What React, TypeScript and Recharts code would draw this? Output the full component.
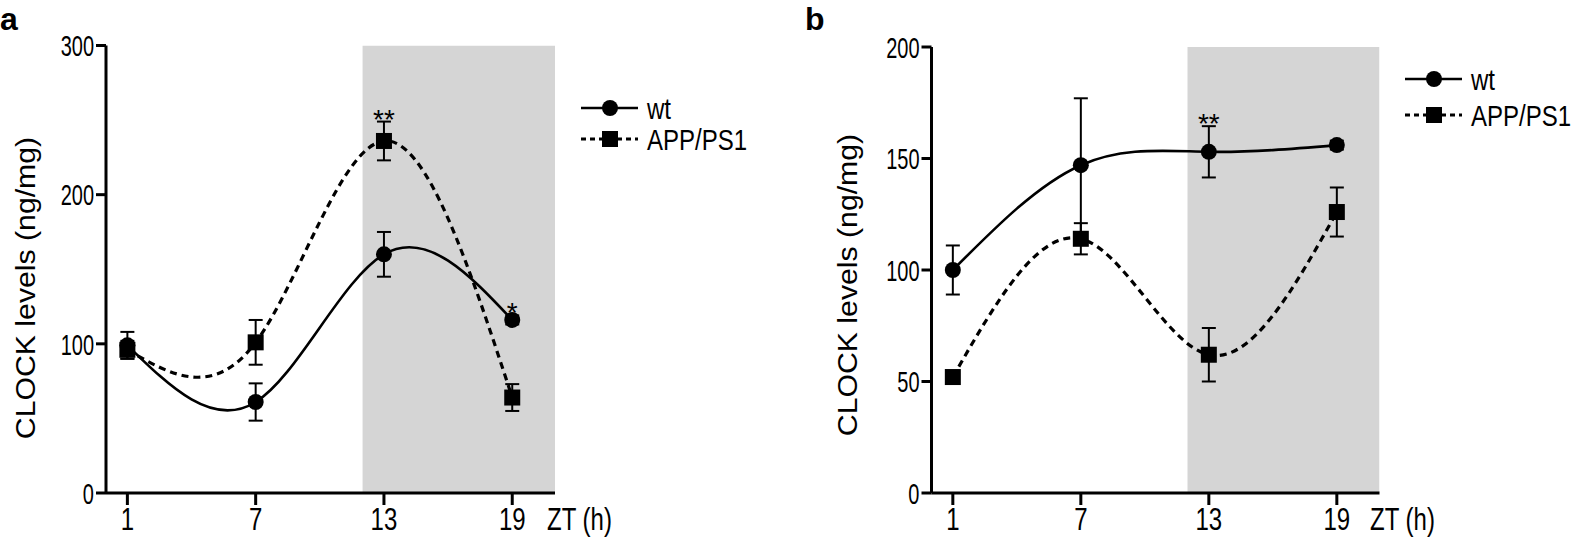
import React from 'react';
import { LineChart, Line, XAxis, YAxis, ReferenceArea, ErrorBar, LabelList } from 'recharts';

// ZT hours sampled
const hours = [1, 7, 13, 19];

// panel a
const wtA = [99, 61, 160, 116];
const wtAErr = [9, 12.5, 15, 3];
const appA = [96, 101, 236, 64];
const appAErr = [6, 15, 13, 9];
const wtAStars = ['', '', '', '*'];
const appAStars = ['', '', '**', ''];
const ticksA = [0, 100, 200, 300];

// panel b
const wtB = [100, 147, 153, 156];
const wtBErr = [11, 30, 11.5, 2];
const appB = [52, 114, 62, 126];
const appBErr = [2, 7, 12, 11];
const wtBStars = ['', '', '**', ''];
const appBStars = ['', '', '', ''];
const ticksB = [0, 50, 100, 150, 200];

const FONT = '"Liberation Sans", Arial, Helvetica, sans-serif';
const SY = 1.3; // figure text is stretched vertically

const buildRows = (wt: number[], wtErr: number[], app: number[], appErr: number[], wtStars: string[], appStars: string[]) =>
  hours.map((zt, i) => ({
    zt,
    wt: wt[i],
    wtErr: wtErr[i],
    app: app[i],
    appErr: appErr[i],
    wtStar: wtStars[i] || null,
    appStar: appStars[i] || null,
    wtStarY: wtStars[i] ? wt[i] + wtErr[i] : null,
    appStarY: appStars[i] ? app[i] + appErr[i] : null,
  }));

const dataA = buildRows(wtA, wtAErr, appA, appAErr, wtAStars, appAStars);
const dataB = buildRows(wtB, wtBErr, appB, appBErr, wtBStars, appBStars);

const CircleDot = (props: any) => {
  const { cx, cy } = props;
  if (cx == null || cy == null) return null;
  return <circle cx={cx} cy={cy} r={8} fill="#000" />;
};

const SquareDot = (props: any) => {
  const { cx, cy } = props;
  if (cx == null || cy == null) return null;
  return <rect x={cx - 8} y={cy - 8} width={16} height={16} fill="#000" />;
};

const YTick = (props: any) => {
  const { x, y, payload } = props;
  return (
    <text transform={`translate(${x},${y}) scale(0.93,1.4)`} textAnchor="end" dy="0.355em"
      fontFamily={FONT} fontSize={21.5} fill="#000">
      {payload.value}
    </text>
  );
};

const XTick = (props: any) => {
  const { x, y, payload } = props;
  return (
    <text transform={`translate(${x},${y}) scale(1,${SY})`} textAnchor="middle" dy="0.71em"
      fontFamily={FONT} fontSize={24} fill="#000">
      {payload.value}
    </text>
  );
};

const StarLabel = (props: any) => {
  const { x, y, value } = props;
  if (!value || x == null || y == null) return null;
  return (
    <text x={x} y={y + 7} textAnchor="middle" fontFamily={FONT} fontSize={28} fill="#000">
      {value}
    </text>
  );
};

const Panel = ({ data, yMax, yTicks, margin, width }: any) => (
  <LineChart width={width} height={537} data={data} margin={margin}>
    <ReferenceArea x1={12} x2={21} y1={0} y2={yMax} fill="#d5d5d5" fillOpacity={1} stroke="none" ifOverflow="hidden" />
    <XAxis
      type="number"
      dataKey="zt"
      domain={[0, 21]}
      ticks={hours}
      allowDataOverflow
      height={44}
      axisLine={{ stroke: '#000', strokeWidth: 3 }}
      tickLine={{ stroke: '#000', strokeWidth: 3 }}
      tickSize={12}
      tickMargin={3}
      tick={<XTick />}
    />
    <YAxis
      type="number"
      domain={[0, yMax]}
      ticks={yTicks}
      width={60}
      axisLine={{ stroke: '#000', strokeWidth: 3 }}
      tickLine={{ stroke: '#000', strokeWidth: 3 }}
      tickSize={10}
      tickMargin={2}
      tick={<YTick />}
    />
    <Line dataKey="app" type="natural" stroke="#000" strokeWidth={3.2} strokeDasharray="7 5"
      dot={<SquareDot />} activeDot={false} isAnimationActive={false}>
      <ErrorBar dataKey="appErr" direction="y" width={7} stroke="#000" strokeWidth={2} />
    </Line>
    <Line dataKey="wt" type="natural" stroke="#000" strokeWidth={2.6}
      dot={<CircleDot />} activeDot={false} isAnimationActive={false}>
      <ErrorBar dataKey="wtErr" direction="y" width={7} stroke="#000" strokeWidth={2} />
    </Line>
    <Line dataKey="appStarY" stroke="none" dot={false} activeDot={false} isAnimationActive={false}>
      <LabelList dataKey="appStar" content={<StarLabel />} />
    </Line>
    <Line dataKey="wtStarY" stroke="none" dot={false} activeDot={false} isAnimationActive={false}>
      <LabelList dataKey="wtStar" content={<StarLabel />} />
    </Line>
  </LineChart>
);

const LegendBlock = ({ x, yWt, yApp }: any) => (
  <g>
    <line x1={x} x2={x + 57} y1={yWt} y2={yWt} stroke="#000" strokeWidth={2.6} />
    <circle cx={x + 29} cy={yWt} r={8} fill="#000" />
    <text transform={`translate(${x + 66},${yWt}) scale(1,1.25)`} dy="0.355em" fontFamily={FONT} fontSize={24}>wt</text>
    <line x1={x} x2={x + 57} y1={yApp} y2={yApp} stroke="#000" strokeWidth={3.2} strokeDasharray="5 4" />
    <rect x={x + 21} y={yApp - 8} width={16} height={16} fill="#000" />
    <text transform={`translate(${x + 66},${yApp}) scale(1,1.25)`} dy="0.355em" fontFamily={FONT} fontSize={24}>APP/PS1</text>
  </g>
);

const YLabel = ({ x, y }: any) => (
  <text transform={`translate(${x},${y}) rotate(-90) scale(1.08,1)`} textAnchor="middle" fontFamily={FONT} fontSize={28}>
    CLOCK levels (ng/mg)
  </text>
);

const App = () => (
  <div style={{ position: 'absolute', left: 0, top: 0, width: 1594, height: 537, background: '#fff' }}>
    <div style={{ position: 'absolute', left: 0, top: 0 }}>
      <Panel data={dataA} yMax={300} yTicks={ticksA} width={800}
        margin={{ top: 45.5, right: 245, left: 46, bottom: 0 }} />
    </div>
    <div style={{ position: 'absolute', left: 800, top: 0 }}>
      <Panel data={dataB} yMax={200} yTicks={ticksB} width={794}
        margin={{ top: 47, right: 214.5, left: 71.5, bottom: 0 }} />
    </div>
    <svg width={1594} height={537} style={{ position: 'absolute', left: 0, top: 0, pointerEvents: 'none' }}>
      <text x={0} y={30} fontFamily={FONT} fontSize={32} fontWeight="bold">a</text>
      <text x={805} y={30} fontFamily={FONT} fontSize={32} fontWeight="bold">b</text>
      <YLabel x={35} y={288} />
      <YLabel x={857} y={285} />
      <LegendBlock x={581} yWt={108} yApp={139} />
      <LegendBlock x={1405} yWt={79} yApp={115} />
      <text transform={`translate(547,508) scale(1,${SY})`} dy="0.71em" fontFamily={FONT} fontSize={24}>ZT (h)</text>
      <text transform={`translate(1370,508) scale(1,${SY})`} dy="0.71em" fontFamily={FONT} fontSize={24}>ZT (h)</text>
    </svg>
  </div>
);

export default App;
